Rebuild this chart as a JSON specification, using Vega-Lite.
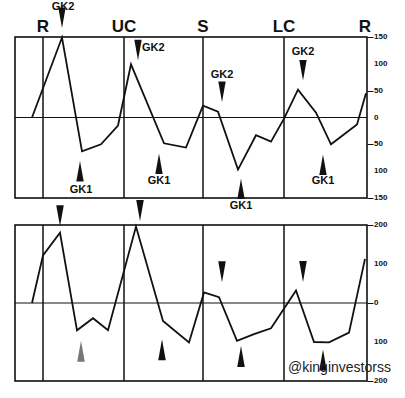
{
  "$schema": "https://vega.github.io/schema/vega-lite/v6.json",
  "padding": {"left": 13, "top": 0, "right": 0, "bottom": 0},
  "bounds": "flush",
  "spacing": 27,
  "background": "white",
  "config": {
    "view": {"stroke": "black", "strokeWidth": 1.5},
    "axis": {"tickColor": "#111", "tickSize": 6, "tickWidth": 1, "domain": false, "grid": false, "title": null, "labels": false}
  },
  "datasets": {
    "top_line": [
      {"t": 17, "v": 0}, {"t": 47, "v": 149}, {"t": 67, "v": -63}, {"t": 86, "v": -50}, {"t": 103, "v": -15},
      {"t": 116, "v": 99}, {"t": 149, "v": -48}, {"t": 171, "v": -56}, {"t": 188, "v": 22}, {"t": 203, "v": 11},
      {"t": 223, "v": -97}, {"t": 241, "v": -33}, {"t": 256, "v": -45}, {"t": 269, "v": -2}, {"t": 283, "v": 52},
      {"t": 301, "v": 9}, {"t": 316, "v": -50}, {"t": 342, "v": -13}, {"t": 351, "v": 45}
    ],
    "bottom_line": [
      {"t": 17, "v": 0}, {"t": 28, "v": 122}, {"t": 45, "v": 180}, {"t": 62, "v": -70}, {"t": 78, "v": -39},
      {"t": 93, "v": -70}, {"t": 121, "v": 196}, {"t": 148, "v": -46}, {"t": 174, "v": -101}, {"t": 189, "v": 27},
      {"t": 204, "v": 15}, {"t": 222, "v": -97}, {"t": 239, "v": -80}, {"t": 256, "v": -65}, {"t": 281, "v": 32},
      {"t": 299, "v": -100}, {"t": 314, "v": -101}, {"t": 334, "v": -76}, {"t": 350, "v": 113}
    ],
    "phases": [
      {"t": 28, "label": "R"}, {"t": 109, "label": "UC"}, {"t": 188, "label": "S"}, {"t": 269, "label": "LC"}, {"t": 350, "label": "R"}
    ],
    "top_arrows": [
      {"t": 47, "v": 186, "dir": "down"}, {"t": 123, "v": 126, "dir": "down"}, {"t": 207, "v": 48, "dir": "down"}, {"t": 288, "v": 88, "dir": "down"},
      {"t": 65, "v": -100, "dir": "up"}, {"t": 144, "v": -86, "dir": "up"}, {"t": 226, "v": -133, "dir": "up"}, {"t": 308, "v": -88, "dir": "up"}
    ],
    "top_labels": [
      {"t": 48, "v": 205, "label": "GK2"},
      {"t": 207, "v": 80, "label": "GK2"},
      {"t": 288, "v": 122, "label": "GK2"},
      {"t": 66, "v": -136, "label": "GK1"},
      {"t": 144, "v": -119, "label": "GK1"},
      {"t": 226, "v": -164, "label": "GK1"},
      {"t": 308, "v": -119, "label": "GK1"}
    ],
    "top_ticks": [
      {"v": 150, "label": "150"}, {"v": 100, "label": "100"}, {"v": 50, "label": "50"}, {"v": 0, "label": "0"},
      {"v": -50, "label": "50"}, {"v": -100, "label": "100"}, {"v": -150, "label": "150"}
    ],
    "bottom_ticks": [
      {"v": 200, "label": "200"}, {"v": 100, "label": "100"}, {"v": 0, "label": "0"}, {"v": -100, "label": "100"}, {"v": -200, "label": "200"}
    ],
    "bottom_arrows": [
      {"t": 45, "v": 224, "dir": "down", "tone": "black"}, {"t": 125, "v": 237, "dir": "down", "tone": "black"},
      {"t": 207, "v": 80, "dir": "down", "tone": "black"}, {"t": 288, "v": 81, "dir": "down", "tone": "black"},
      {"t": 66, "v": -124, "dir": "up", "tone": "gray"}, {"t": 147, "v": -120, "dir": "up", "tone": "black"},
      {"t": 226, "v": -137, "dir": "up", "tone": "black"}, {"t": 308, "v": -146, "dir": "up", "tone": "black"}
    ]
  },
  "vconcat": [
    {
      "width": 352,
      "height": 161,
      "layer": [
        {
          "data": {"values": [{"v": 0}]},
          "mark": {"type": "rule", "color": "#111", "strokeWidth": 1},
          "encoding": {"y": {"field": "v", "type": "quantitative", "scale": {"domain": [-150, 150], "nice": false},
              "axis": {"orient": "right", "values": [-150, -100, -50, 0, 50, 100, 150], "labels": false}}}
        },
        {
          "data": {"name": "phases"},
          "transform": [{"filter": "datum.t < 340"}],
          "mark": {"type": "rule", "color": "#111", "strokeWidth": 1.5},
          "encoding": {"x": {"field": "t", "type": "quantitative", "scale": {"domain": [0, 352], "nice": false, "zero": false}, "axis": null}}
        },
        {
          "data": {"name": "phases"},
          "mark": {"type": "text", "font": "Liberation Sans", "fontWeight": "bold", "fontSize": 17, "baseline": "alphabetic", "align": "center", "color": "#111"},
          "encoding": {
            "x": {"field": "t", "type": "quantitative"},
            "y": {"datum": 160, "type": "quantitative"},
            "text": {"field": "label"}
          }
        },
        {
          "data": {"name": "top_ticks"},
          "mark": {"type": "text", "font": "Liberation Sans", "fontWeight": "bold", "fontSize": 8, "baseline": "middle", "align": "left", "color": "#111"},
          "encoding": {
            "x": {"datum": 359, "type": "quantitative"},
            "y": {"field": "v", "type": "quantitative"},
            "text": {"field": "label"}
          }
        },
        {
          "data": {"name": "top_line"},
          "mark": {"type": "line", "color": "#111", "strokeWidth": 1.8},
          "encoding": {
            "x": {"field": "t", "type": "quantitative"},
            "y": {"field": "v", "type": "quantitative"}
          }
        },
        {
          "data": {"name": "top_arrows"},
          "mark": {"type": "point", "filled": true, "color": "#111", "opacity": 1, "size": 420},
          "encoding": {
            "x": {"field": "t", "type": "quantitative"},
            "y": {"field": "v", "type": "quantitative"},
            "shape": {"field": "dir", "type": "nominal", "scale": {"domain": ["down", "up"], "range": ["M0,1L0.36,-1L-0.36,-1Z", "M0,-1L0.36,1L-0.36,1Z"]}, "legend": null}
          }
        },
        {
          "data": {"name": "top_labels"},
          "mark": {"type": "text", "font": "Liberation Sans", "fontWeight": "bold", "fontSize": 11, "baseline": "middle", "align": "center", "color": "#111"},
          "encoding": {
            "x": {"field": "t", "type": "quantitative"},
            "y": {"field": "v", "type": "quantitative"},
            "text": {"field": "label"}
          }
        },
        {
          "data": {"values": [{"t": 127, "v": 130, "label": "GK2"}]},
          "mark": {"type": "text", "font": "Liberation Sans", "fontWeight": "bold", "fontSize": 11, "baseline": "middle", "align": "left", "color": "#111"},
          "encoding": {
            "x": {"field": "t", "type": "quantitative"},
            "y": {"field": "v", "type": "quantitative"},
            "text": {"field": "label"}
          }
        }
      ]
    },
    {
      "width": 352,
      "height": 156,
      "layer": [
        {
          "data": {"values": [{"v": 0}]},
          "mark": {"type": "rule", "color": "#111", "strokeWidth": 1},
          "encoding": {"y": {"field": "v", "type": "quantitative", "scale": {"domain": [-200, 200], "nice": false},
              "axis": {"orient": "right", "values": [-200, -100, 0, 100, 200], "labels": false}}}
        },
        {
          "data": {"name": "phases"},
          "transform": [{"filter": "datum.t < 340"}],
          "mark": {"type": "rule", "color": "#111", "strokeWidth": 1.5},
          "encoding": {"x": {"field": "t", "type": "quantitative", "scale": {"domain": [0, 352], "nice": false, "zero": false}, "axis": null}}
        },
        {
          "data": {"name": "bottom_ticks"},
          "mark": {"type": "text", "font": "Liberation Sans", "fontWeight": "bold", "fontSize": 8, "baseline": "middle", "align": "left", "color": "#111"},
          "encoding": {
            "x": {"datum": 359, "type": "quantitative"},
            "y": {"field": "v", "type": "quantitative"},
            "text": {"field": "label"}
          }
        },
        {
          "data": {"name": "bottom_line"},
          "mark": {"type": "line", "color": "#111", "strokeWidth": 1.8},
          "encoding": {
            "x": {"field": "t", "type": "quantitative"},
            "y": {"field": "v", "type": "quantitative"}
          }
        },
        {
          "data": {"name": "bottom_arrows"},
          "mark": {"type": "point", "filled": true, "opacity": 1, "size": 440},
          "encoding": {
            "x": {"field": "t", "type": "quantitative"},
            "y": {"field": "v", "type": "quantitative"},
            "shape": {"field": "dir", "type": "nominal", "scale": {"domain": ["down", "up"], "range": ["M0,1L0.36,-1L-0.36,-1Z", "M0,-1L0.36,1L-0.36,1Z"]}, "legend": null},
            "color": {"field": "tone", "type": "nominal", "scale": {"domain": ["black", "gray"], "range": ["#111", "#777"]}, "legend": null}
          }
        },
        {
          "data": {"values": [{"t": 273, "v": -176, "label": "@kinginvestorss"}]},
          "mark": {"type": "text", "font": "Liberation Sans", "fontSize": 14, "baseline": "alphabetic", "align": "left", "color": "#222"},
          "encoding": {
            "x": {"field": "t", "type": "quantitative"},
            "y": {"field": "v", "type": "quantitative"},
            "text": {"field": "label"}
          }
        }
      ]
    }
  ]
}
